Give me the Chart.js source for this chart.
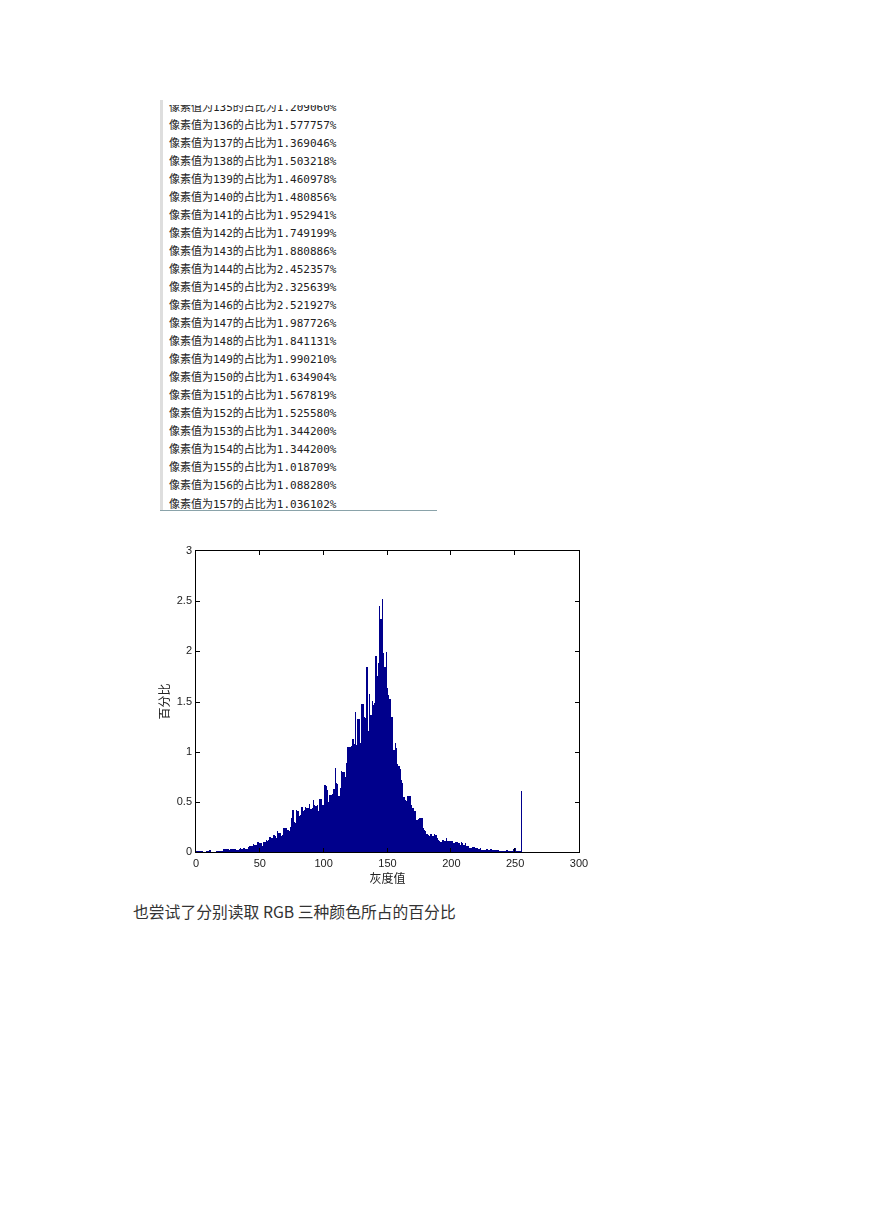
<!DOCTYPE html>
<html>
<head>
<meta charset="utf-8">
<script src="https://cdn.jsdelivr.net/npm/chart.js@4.4.1/dist/chart.umd.min.js"></script>
<style>
  html, body { margin: 0; padding: 0; background: #fff; }
  body { width: 869px; height: 1228px; position: relative; overflow: hidden; }
  #console-bar { position: absolute; left: 160px; top: 100px; width: 3px; height: 410px; background: #dedede; }
  #console { position: absolute; left: 163px; top: 105px; width: 274px; height: 405px; overflow: hidden; }
  #console .lines { position: absolute; left: 6px; top: -6.5px; color: #222; white-space: pre;
                    font: 11px "DejaVu Sans Mono", "Noto Sans CJK SC", monospace; line-height: 18.05px; }
  #console-rule { position: absolute; left: 160px; top: 510px; width: 277px; height: 1px; background: #8aa3aa; }
  #chart { position: absolute; left: 140px; top: 530px; }
  #caption { position: absolute; left: 133px; top: 901px; color: #333; white-space: nowrap;
             font: 15.8px "Noto Sans CJK SC"; line-height: 22px; }
</style>
</head>
<body>
<div id="console-bar"></div>
<div id="console"><div class="lines"></div></div>
<div id="console-rule"></div>
<canvas id="chart" width="460" height="370"></canvas>
<div id="caption">也尝试了分别读取 RGB 三种颜色所占的百分比</div>

<script>
// percentage of pixels for each gray level 0..255
const percent = [
  0.005, 0.012, 0.013, 0.012, 0.012, 0.010, 0.003, 0.004, 0.009, 0.008,
  0.012, 0.022, 0.004, 0.002, 0.003, 0.003, 0.005, 0.013, 0.012, 0.013,
  0.014, 0.013, 0.030, 0.028, 0.025, 0.026, 0.024, 0.026, 0.029, 0.030,
  0.028, 0.027, 0.023, 0.024, 0.030, 0.041, 0.033, 0.040, 0.042, 0.031,
  0.034, 0.052, 0.058, 0.061, 0.057, 0.076, 0.068, 0.074, 0.100, 0.096,
  0.090, 0.088, 0.064, 0.098, 0.102, 0.120, 0.112, 0.121, 0.150, 0.142,
  0.139, 0.170, 0.158, 0.140, 0.210, 0.192, 0.185, 0.160, 0.172, 0.242,
  0.240, 0.238, 0.222, 0.212, 0.252, 0.338, 0.421, 0.302, 0.288, 0.422,
  0.410, 0.362, 0.371, 0.452, 0.412, 0.421, 0.452, 0.438, 0.441, 0.482,
  0.430, 0.442, 0.521, 0.470, 0.462, 0.472, 0.412, 0.531, 0.528, 0.470,
  0.468, 0.672, 0.662, 0.622, 0.502, 0.570, 0.572, 0.575, 0.630, 0.840,
  0.690, 0.682, 0.562, 0.640, 0.810, 0.802, 0.798, 0.752, 0.890, 1.048,
  1.050, 1.049, 1.052, 1.125, 1.072, 1.392, 1.070, 1.330, 1.325, 1.090,
  1.480, 1.476, 1.342, 1.338, 1.840, 1.209060, 1.577757, 1.369046, 1.503218, 1.460978,
  1.480856, 1.952941, 1.749199, 1.880886, 2.452357, 2.325639, 2.521927, 1.987726, 1.841131, 1.990210,
  1.634904, 1.567819, 1.525580, 1.344200, 1.344200, 1.018709, 1.088280, 1.036102, 0.880, 0.860,
  0.830, 0.720, 0.690, 0.550, 0.520, 0.510, 0.560, 0.560, 0.560, 0.470,
  0.440, 0.410, 0.410, 0.320, 0.330, 0.340, 0.340, 0.340, 0.240, 0.220,
  0.210, 0.180, 0.170, 0.160, 0.180, 0.160, 0.160, 0.180, 0.170, 0.140,
  0.120, 0.110, 0.100, 0.120, 0.120, 0.110, 0.140, 0.110, 0.105, 0.108,
  0.110, 0.112, 0.090, 0.096, 0.095, 0.097, 0.094, 0.073, 0.096, 0.092,
  0.066, 0.093, 0.063, 0.060, 0.043, 0.042, 0.036, 0.050, 0.048, 0.040,
  0.041, 0.030, 0.031, 0.043, 0.023, 0.022, 0.024, 0.023, 0.033, 0.017,
  0.016, 0.033, 0.020, 0.021, 0.019, 0.020, 0.021, 0.019, 0.013, 0.012,
  0.014, 0.013, 0.012, 0.023, 0.022, 0.013, 0.012, 0.013, 0.014, 0.027,
  0.043, 0.013, 0.012, 0.013, 0.012, 0.603
]
const grayLevels = percent.map((_, i) => i)
const xTicks = [0, 50, 100, 150, 200, 250, 300]
const yTicks = [0, 0.5, 1, 1.5, 2, 2.5, 3]
const xTitle = '灰度值'
const yTitle = '百分比'
// console printout shows these gray levels
const consoleLevels = grayLevels.slice(135, 158)

document.querySelector('#console .lines').textContent = consoleLevels
    .map(g => '像素值为' + g + '的占比为' + percent[g].toFixed(6) + '%')
    .join('\n')

// snap bar edges to whole pixels so the 1.28px wide bars sit flush, like the bitmap
const snapBars = {
    id: 'snapBars',
    beforeDatasetsDraw(chart) {
        const ctx = chart.ctx
        const rect = CanvasRenderingContext2D.prototype.rect
        ctx.rect = function (x, y, w, h) {
            const x0 = Math.round(x), x1 = Math.round(x + w)
            const y0 = Math.round(y), y1 = Math.round(y + h)
            return rect.call(this, x0, y0, x1 - x0, y1 - y0)
        }
    },
    afterDatasetsDraw(chart) {
        delete chart.ctx.rect
    }
}

// MATLAB style box with inward ticks on all four sides
const matlabBox = {
    id: 'matlabBox',
    afterDatasetsDraw(chart) {
        const { ctx, chartArea: a, scales: { x, y } } = chart
        const len = 4
        ctx.save()
        ctx.strokeStyle = '#000'
        ctx.lineWidth = 1
        ctx.beginPath()
        x.ticks.slice(1, -1).forEach(t => {
            const px = Math.round(x.getPixelForValue(t.value)) - 0.5
            ctx.moveTo(px, a.bottom); ctx.lineTo(px, a.bottom - len)
            ctx.moveTo(px, a.top); ctx.lineTo(px, a.top + len)
        })
        y.ticks.slice(1, -1).forEach(t => {
            const py = Math.round(y.getPixelForValue(t.value)) + 0.5
            ctx.moveTo(a.left, py); ctx.lineTo(a.left + len, py)
            ctx.moveTo(a.right, py); ctx.lineTo(a.right - len, py)
        })
        ctx.stroke()
        ctx.strokeRect(a.left - 0.5, a.top - 0.5, a.width + 1, a.height + 1)
        ctx.restore()
    }
}

const tickFont = { family: 'Liberation Sans', size: 11 }
const titleFont = { family: 'Noto Sans CJK SC', size: 12 }

new Chart(document.getElementById('chart'), {
    type: 'bar',
    data: {
        datasets: [{
            data: grayLevels.map(g => ({ x: g, y: percent[g] })),
            backgroundColor: 'rgb(0,0,140)',
            borderWidth: 0,
            inflateAmount: 0,
            barPercentage: 1,
            categoryPercentage: 1
        }]
    },
    options: {
        responsive: false,
        animation: false,
        devicePixelRatio: 1,
        layout: { padding: { top: 21, right: 21, left: 0, bottom: 0 } },
        plugins: { legend: { display: false }, tooltip: { enabled: false } },
        scales: {
            x: {
                type: 'linear', min: 0, max: 300, offset: false,
                afterBuildTicks: s => { s.ticks = xTicks.map(v => ({ value: v })) },
                afterFit: s => { s.height = 48 },
                grid: { display: false, drawTicks: false },
                border: { display: false },
                ticks: { padding: 5, font: tickFont, color: '#222', maxRotation: 0, autoSkip: false,
                         callback: v => String(v) },
                title: { display: true, text: xTitle, font: titleFont, color: '#222', padding: { top: 0, bottom: 14 } }
            },
            y: {
                min: 0, max: 3,
                afterBuildTicks: s => { s.ticks = yTicks.map(v => ({ value: v })) },
                afterFit: s => { s.width = 56 },
                grid: { display: false, drawTicks: false },
                border: { display: false },
                ticks: { padding: 4, font: tickFont, color: '#222', callback: v => String(v) },
                title: { display: true, text: yTitle, font: titleFont, color: '#222', padding: { top: 17, bottom: 0 } }
            }
        }
    },
    plugins: [snapBars, matlabBox]
})
</script>
</body>
</html>
